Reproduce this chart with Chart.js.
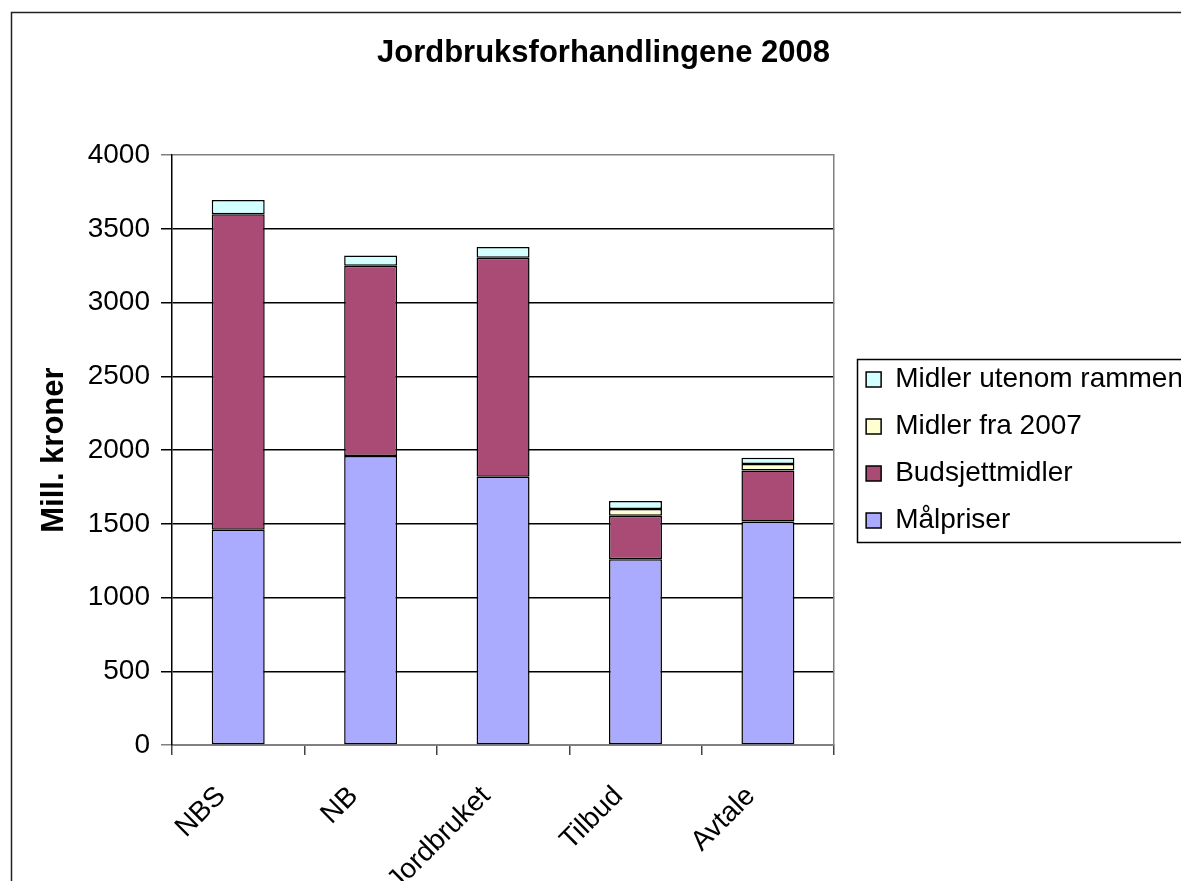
<!DOCTYPE html>
<html>
<head>
<meta charset="utf-8">
<title>Jordbruksforhandlingene 2008</title>
<script src="https://cdn.jsdelivr.net/npm/chart.js@4/dist/chart.umd.min.js"></script>
<style>
    html, body { margin: 0; padding: 0; background: #fff; overflow: hidden; }
    canvas { display: block; background: #fff; }
</style>
</head>
<body>
<canvas id="myChart" width="1193" height="881"></canvas>
<script>
    // Jordbruksforhandlingene 2008 - stablede søyler, mill. kroner

    const labels = ['NBS', 'NB', 'Jordbruket', 'Tilbud', 'Avtale'];

    const malpriser = [1460, 1960, 1820, 1260, 1515];
    const budsjettmidler = [2140, 1290, 1485, 295, 347];
    const midlerFra2007 = [0, 0, 0, 45, 43];
    const midlerUtenom = [97, 70, 73, 55, 43];

    const yTicks = [0, 500, 1000, 1500, 2000, 2500, 3000, 3500, 4000];

    Chart.defaults.font.family = 'Arial, "Liberation Sans", sans-serif';
    Chart.defaults.color = '#000';

    const data = {
        labels: labels,
        datasets: [{
            label: 'Målpriser',
            data: malpriser,
            backgroundColor: '#aaaaff'
        }, {
            label: 'Budsjettmidler',
            data: budsjettmidler,
            backgroundColor: '#aa4b76'
        }, {
            label: 'Midler fra 2007',
            data: midlerFra2007,
            backgroundColor: '#ffffd0'
        }, {
            label: 'Midler utenom rammen',
            data: midlerUtenom,
            backgroundColor: '#d2ffff'
        }].map(ds => Object.assign(ds, {
            yAxisID: 'y',
            borderColor: '#000',
            borderWidth: 1.5,
            borderSkipped: false,
            barPercentage: 0.4,
            categoryPercentage: 1
        }))
    };

    // ramme rundt hele diagrammet og rundt forklaringen
    const frames = {
        id: 'frames',
        afterDraw(chart) {
            const ctx = chart.ctx;
            ctx.save();
            ctx.strokeStyle = '#222';
            ctx.lineWidth = 1.5;
            ctx.strokeRect(11.5, 12.5, 3000, 3000);

            const lg = chart.legend;
            const boxes = lg.legendHitBoxes;
            if (boxes && boxes.length) {
                const last = boxes[boxes.length - 1];
                const top = boxes[0].top - 7;
                const bottom = last.top + last.height + 7;
                ctx.strokeStyle = '#000';
                ctx.strokeRect(Math.round(lg.left + 10) + 0.5, Math.round(top) + 0.5, 1000, Math.round(bottom - top));
            }
            ctx.restore();
        }
    };

    const config = {
        type: 'bar',
        data: data,
        options: {
            responsive: false,
            animation: false,
            layout: {
                padding: { left: 14, right: 0, top: 0, bottom: 0 }
            },
            scales: {
                x: {
                    stacked: true,
                    afterFit: s => { s.height = 136; },
                    grid: {
                        offset: true,
                        drawOnChartArea: false,
                        drawTicks: true,
                        tickLength: 10,
                        color: '#444',
                        lineWidth: 1.5
                    },
                    border: { display: true, color: '#808080', width: 2 },
                    ticks: {
                        autoSkip: false,
                        minRotation: 45,
                        maxRotation: 45,
                        padding: 25,
                        labelOffset: -17,
                        font: { size: 28 }
                    }
                },
                y: {
                    stacked: true,
                    min: 0,
                    max: 4000,
                    afterFit: s => { s.width = 158; },
                    afterBuildTicks: s => { s.ticks = yTicks.map(v => ({ value: v })); },
                    grid: {
                        color: c => (c.tick && (c.tick.value === 0 || c.tick.value === 4000)) ? '#808080' : '#000',
                        lineWidth: 1.5,
                        tickLength: 11
                    },
                    border: { display: true, color: '#000', width: 1.5 },
                    ticks: {
                        padding: 11,
                        font: { size: 28 },
                        callback: v => String(v)
                    },
                    title: {
                        display: true,
                        text: 'Mill. kroner',
                        font: { size: 31, weight: 'bold' },
                        padding: { top: 22, bottom: 0 }
                    }
                },
                // tom akse som gir luft mellom plottet og forklaringen
                yRight: {
                    type: 'linear',
                    position: 'right',
                    afterFit: s => { s.width = 13; },
                    grid: { display: false },
                    ticks: { display: false },
                    border: { display: true, color: '#808080', width: 1.5 }
                }
            },
            plugins: {
                title: {
                    display: true,
                    text: 'Jordbruksforhandlingene 2008',
                    font: { size: 31, weight: 'bold' },
                    padding: { top: 35, bottom: 83 }
                },
                legend: {
                    position: 'right',
                    fullSize: false,
                    reverse: true,
                    maxWidth: 500,
                    labels: {
                        boxWidth: 15,
                        boxHeight: 15,
                        padding: 19,
                        font: { size: 28 }
                    }
                },
                tooltip: { enabled: false }
            }
        },
        plugins: [frames]
    };

    const myChart = new Chart(
        document.getElementById('myChart'),
        config
    );
</script>
</body>
</html>
